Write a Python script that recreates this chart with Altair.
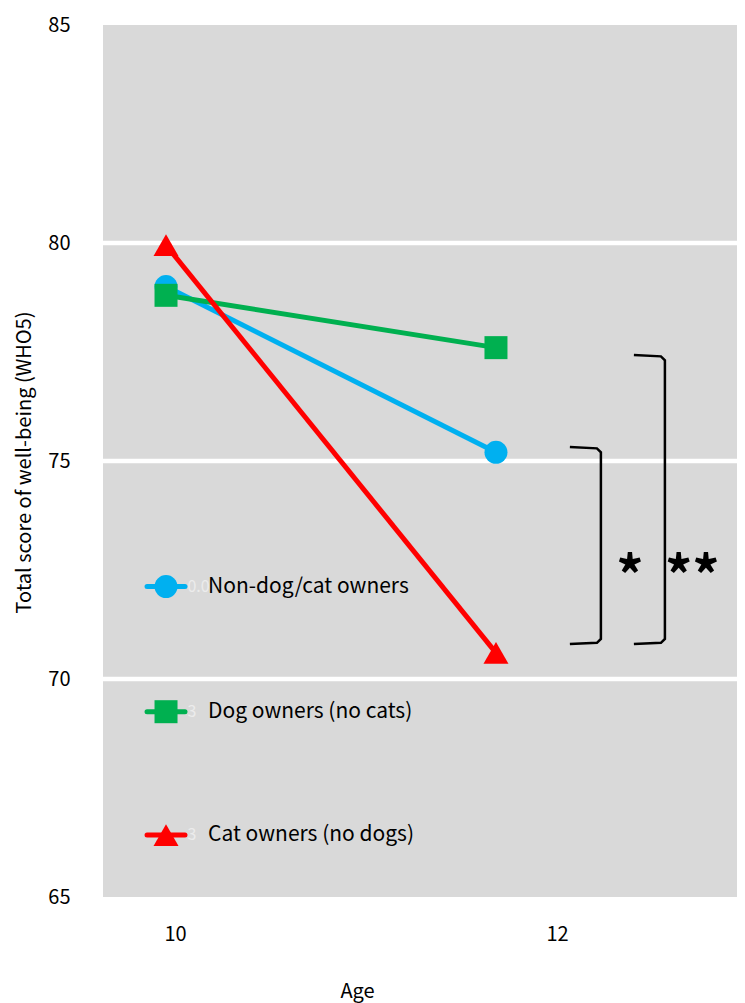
import altair as alt
import pandas as pd

# ---- data ----
ages = [10, 12]
non_owners = [79.0, 75.2]
dog_owners = [78.8, 77.6]
cat_owners = [79.95, 70.6]
groups = ["Non-dog/cat owners", "Dog owners (no cats)", "Cat owners (no dogs)"]
series = [non_owners, dog_owners, cat_owners]
colors = ["#00b0f0", "#00b050", "#ff0000"]
shapes = ["circle", "square", "triangle-up"]
sizes = [529, 529, 625]

y_ticks = [65, 70, 75, 80, 85]
gridlines = [70, 75, 80]
x_ticks = [10, 12]

# legend placed inside the plot (data units)
legend_y = [72.12, 69.25, 66.42]
legend_line_x = [9.885, 10.115]
legend_marker_x = [10.0]
legend_text_x = [10.255]
legend_ghost = ["0.0", "3", "3"]
legend_ghost_x = [10.13]

# significance brackets (data units)
bracket1_x = [12.448, 12.612, 12.636, 12.636, 12.612, 12.448]
bracket1_y = [75.32, 75.29, 75.20, 70.92, 70.83, 70.80]
bracket2_x = [12.836, 13.000, 13.024, 13.024, 13.000, 12.836]
bracket2_y = [77.43, 77.40, 77.31, 70.92, 70.83, 70.80]
stars = ["*", "**"]
stars_x = [12.812, 13.19]
stars_y = [72.68, 72.68]

FONT = "Noto Sans CJK JP"
X_DOMAIN = [9.618, 13.461]       # scale used by marks
XA_DOMAIN = [9.623, 12.942]      # scale used by the category axis

Y = alt.Y("y:Q", scale=alt.Scale(domain=[65, 85], nice=False, zero=False),
          axis=alt.Axis(values=y_ticks, ticks=False, domain=False, grid=False,
                        labelFontSize=20, labelColor="black", labelPadding=33,
                        labelFont=FONT,
                        title="Total score of well-being (WHO5)", titleFont=FONT,
                        titleFontSize=20, titleFontWeight="normal", titleColor="black",
                        titleX=-79, titleY=437, titleBaseline="middle", titleAngle=270))
X = alt.X("x:Q", scale=alt.Scale(domain=X_DOMAIN, nice=False, zero=False), axis=None)

layers = []

# gridlines
grid_df = pd.DataFrame({"y": gridlines})
layers.append(alt.Chart(grid_df).mark_rule(color="white", strokeWidth=4.5).encode(y=Y))

# axis carrier layer (independent x scale for the category labels)
axis_df = pd.DataFrame({"xa": x_ticks, "y": [65, 65]})
layers.append(
    alt.Chart(axis_df).mark_point(opacity=0).encode(
        x=alt.X("xa:Q", scale=alt.Scale(domain=XA_DOMAIN, nice=False, zero=False),
                axis=alt.Axis(values=x_ticks, ticks=False, domain=False, grid=False,
                              labelFontSize=20, labelColor="black", labelPadding=27,
                              labelFont=FONT, orient="bottom",
                              title="Age", titleFont=FONT, titleFontSize=20,
                              titleFontWeight="normal", titleColor="black",
                              titleX=254, titleY=94, titleBaseline="middle")),
        y=Y)
)

# series: line + markers per group, in drawing order
for g, vals, c, s, sz in zip(groups, series, colors, shapes, sizes):
    df = pd.DataFrame({"x": ages, "y": vals})
    base = alt.Chart(df)
    layers.append(base.mark_line(color=c, strokeWidth=5).encode(x=X, y=Y))
    layers.append(base.mark_point(filled=True, opacity=1, color=c, shape=s, size=sz,
                                  strokeWidth=0).encode(x=X, y=Y))

# legend
for g, ly, c, s, sz, gh in zip(groups, legend_y, colors, shapes, sizes, legend_ghost):
    gdf = pd.DataFrame({"x": legend_ghost_x, "y": [ly], "t": [gh]})
    layers.append(alt.Chart(gdf).mark_text(align="left", baseline="middle", fontSize=16,
                                           font=FONT, color="#ececec").encode(x=X, y=Y, text="t:N"))
    ldf = pd.DataFrame({"x": legend_line_x, "y": [ly, ly]})
    layers.append(alt.Chart(ldf).mark_line(color=c, strokeWidth=5, strokeCap="round").encode(x=X, y=Y))
    mdf = pd.DataFrame({"x": legend_marker_x, "y": [ly]})
    layers.append(alt.Chart(mdf).mark_point(filled=True, opacity=1, color=c, shape=s,
                                            size=sz, strokeWidth=0).encode(x=X, y=Y))
    tdf = pd.DataFrame({"x": legend_text_x, "y": [ly], "t": [g]})
    layers.append(alt.Chart(tdf).mark_text(align="left", baseline="middle", fontSize=21,
                                           font=FONT, color="black").encode(x=X, y=Y, text="t:N"))

# brackets
for bx, by in [(bracket1_x, bracket1_y), (bracket2_x, bracket2_y)]:
    bdf = pd.DataFrame({"x": bx, "y": by, "o": list(range(len(bx)))})
    layers.append(alt.Chart(bdf).mark_line(color="black", strokeWidth=2.5).encode(
        x=X, y=Y, order="o:Q"))

# stars
sdf = pd.DataFrame({"x": stars_x, "y": stars_y, "t": stars})
layers.append(alt.Chart(sdf).mark_text(align="center", baseline="middle", fontSize=54,
                                       fontWeight="bold", font=FONT, color="black",
                                       dy=18).encode(x=X, y=Y, text="t:N"))

chart = alt.layer(*layers).resolve_scale(x="independent").properties(
    width=634, height=872,
    padding={"left": 95, "top": 17, "right": 0, "bottom": 110},
    autosize=alt.AutoSizeParams(type="none"),
).configure(font=FONT).configure_view(fill="#d9d9d9", stroke=None)

chart.save("out.html", embed_options={"renderer": "svg", "actions": False})
